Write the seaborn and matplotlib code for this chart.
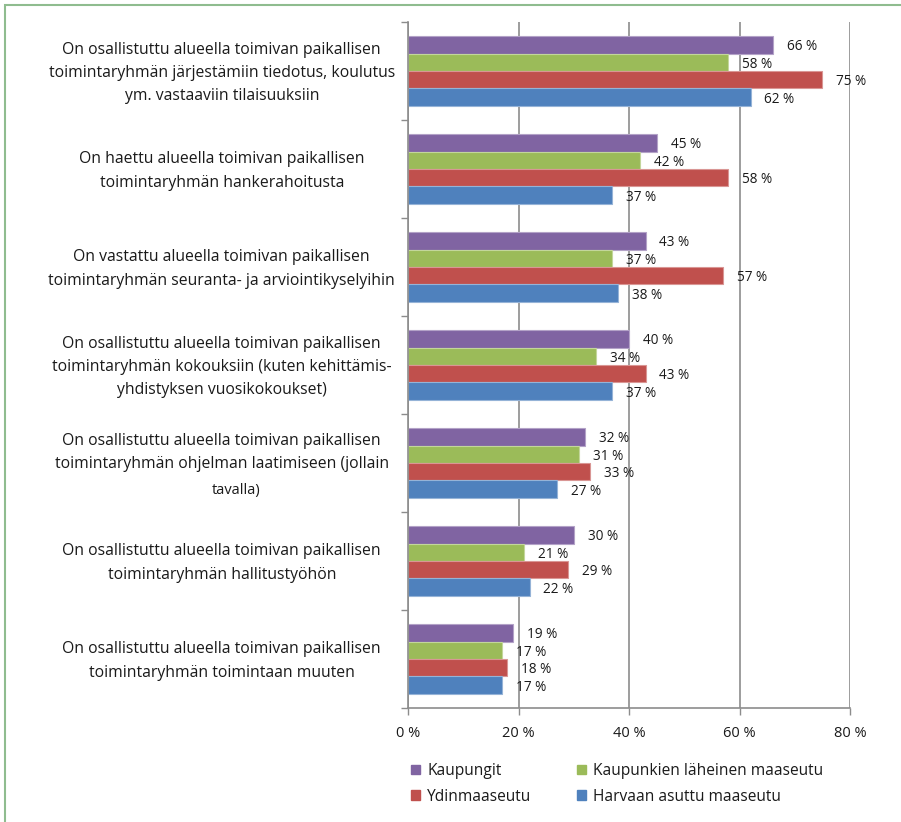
import matplotlib
matplotlib.use("Agg")
import matplotlib.pyplot as plt
import seaborn as sns
import pandas as pd
import numpy as np
from matplotlib.patches import Rectangle, Patch
import matplotlib.colors as mcolors

categories = [
    "On osallistuttu alueella toimivan paikallisen\ntoimintaryhmän järjestämiin tiedotus, koulutus\nym. vastaaviin tilaisuuksiin",
    "On haettu alueella toimivan paikallisen\ntoimintaryhmän hankerahoitusta",
    "On vastattu alueella toimivan paikallisen\ntoimintaryhmän seuranta- ja arviointikyselyihin",
    "On osallistuttu alueella toimivan paikallisen\ntoimintaryhmän kokouksiin (kuten kehittämis-\nyhdistyksen vuosikokoukset)",
    "On osallistuttu alueella toimivan paikallisen\ntoimintaryhmän ohjelman laatimiseen (jollain\ntavalla)",
    "On osallistuttu alueella toimivan paikallisen\ntoimintaryhmän hallitustyöhön",
    "On osallistuttu alueella toimivan paikallisen\ntoimintaryhmän toimintaan muuten",
]
series = ["Kaupungit", "Kaupunkien läheinen maaseutu", "Ydinmaaseutu", "Harvaan asuttu maaseutu"]
kaupungit = [66, 45, 43, 40, 32, 30, 19]
lahimaaseutu = [58, 42, 37, 34, 31, 21, 17]
ydinmaaseutu = [75, 58, 57, 43, 33, 29, 18]
harvaan = [62, 37, 38, 37, 27, 22, 17]
xticks = [0, 20, 40, 60, 80]
colors = ["#8064A2", "#9BBB59", "#C0504D", "#4F81BD"]

values = [kaupungit, lahimaaseutu, ydinmaaseutu, harvaan]
rows = []
for s, vals in zip(series, values):
    for c, v in zip(categories, vals):
        rows.append({"cat": c, "series": s, "value": v})
df = pd.DataFrame(rows)

sns.set_style("white")
plt.rcParams["font.family"] = ["Open Sans", "DejaVu Sans"]
txt = "#1a1a1a"
grid = "#8c8c8c"

fig = plt.figure(figsize=(9.01, 8.22), dpi=100)
ax = fig.add_axes([408/901, 1-708/822, 442/901, 686/822])

sns.barplot(data=df, y="cat", x="value", hue="series", orient="h",
            palette=colors, hue_order=series, order=categories,
            width=0.714, ax=ax, legend=False, saturation=1)

for cont, col in zip(ax.containers, colors):
    lite = tuple(min(1, c*0.6 + 0.4) for c in mcolors.to_rgb(col))
    for p, v in zip(cont, cont.datavalues):
        p.set_edgecolor(lite)
        p.set_linewidth(0.8)
        ax.annotate(f"{int(round(v))} %", (p.get_width(), p.get_y() + p.get_height()/2),
                    xytext=(10, -1.5), textcoords="offset points",
                    ha="left", va="center", fontsize=9.8, color=txt)

ax.set_xlim(0, 80)
ax.set_ylim(len(categories)-0.5, -0.5)
ax.set_xticks(xticks)
ax.set_xticklabels([f"{t} %" for t in xticks], fontsize=10.5, color=txt)
ax.set_yticks(np.arange(-0.5, len(categories)+0.5, 1))
ax.set_yticklabels([])
ax.tick_params(axis="x", length=5, width=1, color=grid, pad=8, direction="out", bottom=True)
ax.tick_params(axis="y", length=5, width=1, color=grid, direction="out", left=True)
ax.set_xlabel("")
ax.set_ylabel("")
ax.xaxis.grid(True, color=grid, linewidth=1.2)
ax.yaxis.grid(False)
ax.set_axisbelow(True)
for sp in ["top", "right"]:
    ax.spines[sp].set_visible(False)
for sp in ["left", "bottom"]:
    ax.spines[sp].set_color(grid)
    ax.spines[sp].set_linewidth(1.2)

xc = -33.7
for i, c in enumerate(categories):
    lines = c.split("\n")
    if i == 4:
        ax.text(xc, i - 0.11, "\n".join(lines[:2]), ha="center", va="center",
                fontsize=11.3, color=txt, linespacing=1.62)
        ax.text(xc + 2.6, i + 0.28, lines[2], ha="center", va="center",
                fontsize=10.5, color=txt)
    else:
        ax.text(xc, i + 0.02, c, ha="center", va="center", fontsize=11.3,
                color=txt, linespacing=1.62)

order = [0, 2, 1, 3]
handles = [Patch(facecolor=colors[k], edgecolor=colors[k]) for k in order]
labels = [series[k] for k in order]
fig.legend(handles, labels, ncol=2, loc="upper left",
           bbox_to_anchor=(397/901, 1-749/822), frameon=False,
           fontsize=11.2, handlelength=0.6, handleheight=0.6,
           handletextpad=0.45, columnspacing=2.9, labelspacing=0.62,
           labelcolor=txt)

fig.patches.append(Rectangle((5/901, -0.1), 1.2, 1-5/822+0.1, transform=fig.transFigure,
                             fill=False, edgecolor="#8fbc8f", linewidth=1.5))

fig.savefig("out.png", dpi=100)
